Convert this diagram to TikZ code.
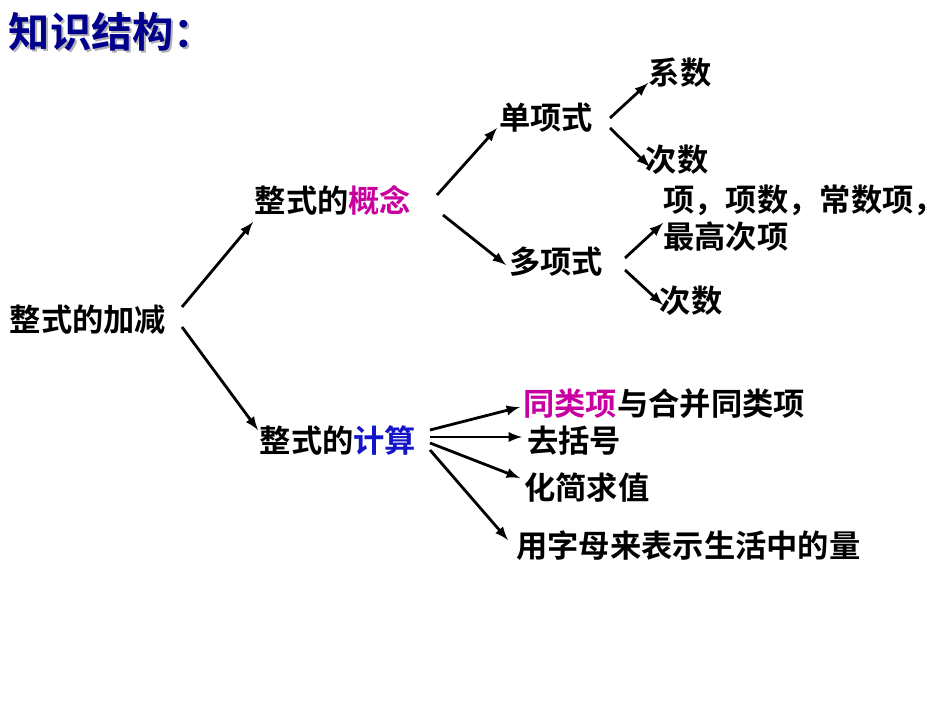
\documentclass[tikz,border=0pt]{standalone}
\usepackage{fontspec}
\newfontfamily\cjk{Noto Sans CJK SC}[BoldFont={Noto Sans CJK SC Bold}]
\begin{document}
\begin{tikzpicture}[x=0.02cm,y=-0.02cm,
  lbl/.style={font=\cjk\bfseries\fontsize{17.8}{20}\selectfont,inner sep=0pt},
  arr/.style={-latex,line width=1.6pt}]
\useasboundingbox (0,0) rectangle (950,713);
\definecolor{mag}{RGB}{200,0,160}
\definecolor{blu}{RGB}{20,20,200}
\definecolor{ttl}{RGB}{0,0,140}
\node[lbl,font=\cjk\bfseries\fontsize{23.5}{26}\selectfont,text=gray!60] at (114,34) {知识结构：};
\node[lbl,font=\cjk\bfseries\fontsize{23.5}{26}\selectfont,text=ttl] (title) at (112,32) {知识结构：};
\node[lbl] (root) at (88,320) {整式的加减};
\node[lbl] (gn) at (333,200) {整式的\textcolor{mag}{概念}};
\node[lbl] (js) at (338,440) {整式的\textcolor{blu}{计算}};
\node[lbl] (dx) at (546,118) {单项式};
\node[lbl] (duo) at (556,262) {多项式};
\node[lbl] (xs) at (680,73) {系数};
\node[lbl] (cs1) at (677,160) {次数};
\node[lbl,anchor=west] (xm) at (663,200) {项，项数，常数项，};
\node[lbl,anchor=west] (zg) at (663,237) {最高次项};
\node[lbl] (cs2) at (691,301) {次数};
\node[lbl,anchor=west] (tl) at (523,404) {\textcolor{mag}{同类项}与合并同类项};
\node[lbl,anchor=west] (qk) at (527,441) {去括号};
\node[lbl,anchor=west] (hj) at (524,488) {化简求值};
\node[lbl,anchor=west] (yz) at (516,546) {用字母来表示生活中的量};
\draw[arr] (182,307) -- (253,222);
\draw[arr] (182,327) -- (258,430);
\draw[arr] (437,195) -- (497,128);
\draw[arr] (443,215) -- (506,265);
\draw[arr] (610,118) -- (648,83);
\draw[arr] (610,128) -- (650,167);
\draw[arr] (625,258) -- (663,223);
\draw[arr] (625,270) -- (663,305);
\draw[arr] (430,430) -- (520,407);
\draw[arr] (430,437) -- (522,437);
\draw[arr] (430,443) -- (520,478);
\draw[arr] (430,450) -- (508,540);
\end{tikzpicture}
\end{document}
